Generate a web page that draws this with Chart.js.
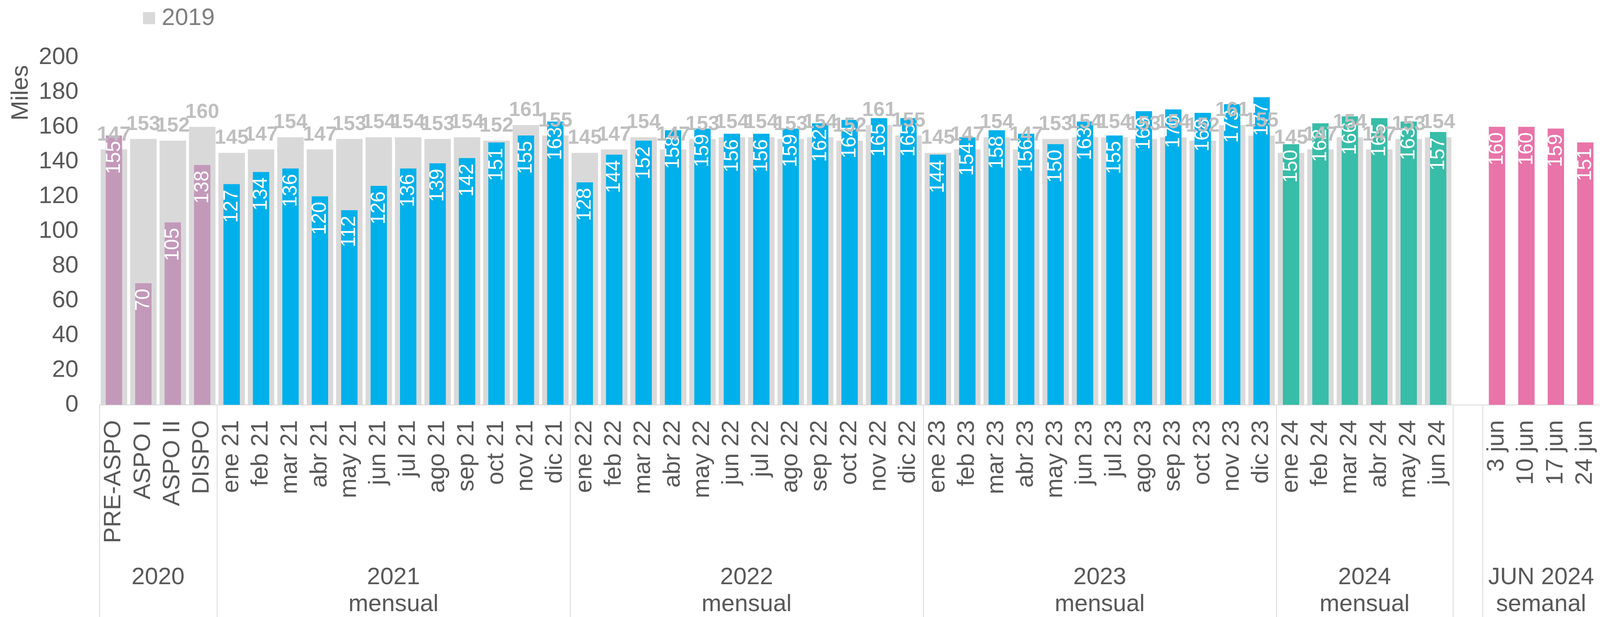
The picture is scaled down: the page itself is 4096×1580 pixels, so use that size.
<!DOCTYPE html>
<html>
<head>
<meta charset="utf-8">
<script src="https://cdn.jsdelivr.net/npm/chart.js@4.4.1/dist/chart.umd.min.js"></script>
<style>
  html, body { margin: 0; padding: 0; background: #fff; overflow: hidden; }
  #wrap { width: 4096px; height: 1580px; }
</style>
</head>
<body>
<div id="wrap"><canvas id="chart" width="4096" height="1580"></canvas></div>
<script>
// ── Datos ────────────────────────────────────────────────────────
const categories = [
  'PRE-ASPO', 'ASPO I', 'ASPO II', 'DISPO',
  'ene 21', 'feb 21', 'mar 21', 'abr 21', 'may 21', 'jun 21', 'jul 21', 'ago 21', 'sep 21', 'oct 21', 'nov 21', 'dic 21',
  'ene 22', 'feb 22', 'mar 22', 'abr 22', 'may 22', 'jun 22', 'jul 22', 'ago 22', 'sep 22', 'oct 22', 'nov 22', 'dic 22',
  'ene 23', 'feb 23', 'mar 23', 'abr 23', 'may 23', 'jun 23', 'jul 23', 'ago 23', 'sep 23', 'oct 23', 'nov 23', 'dic 23',
  'ene 24', 'feb 24', 'mar 24', 'abr 24', 'may 24', 'jun 24',
  '',
  '3 jun', '10 jun', '17 jun', '24 jun'
];

const actual = [
  155, 70, 105, 138,
  127, 134, 136, 120, 112, 126, 136, 139, 142, 151, 155, 163,
  128, 144, 152, 158, 159, 156, 156, 159, 162, 164, 165, 165,
  144, 154, 158, 156, 150, 163, 155, 169, 170, 168, 173, 177,
  150, 162, 166, 165, 163, 157,
  null,
  160, 160, 159, 151
];

const base2019 = [
  147, 153, 152, 160,
  145, 147, 154, 147, 153, 154, 154, 153, 154, 152, 161, 155,
  145, 147, 154, 147, 153, 154, 154, 153, 154, 152, 161, 155,
  145, 147, 154, 147, 153, 154, 154, 153, 154, 152, 161, 155,
  145, 147, 154, 147, 153, 154,
  null,
  null, null, null, null
];

const groupSizes = [4, 12, 12, 12, 6, 1, 4];
const groupLabels = [['2020'], ['2021', 'mensual'], ['2022', 'mensual'], ['2023', 'mensual'], ['2024', 'mensual'], [], ['JUN 2024', 'semanal']];
const yTicks = [0, 20, 40, 60, 80, 100, 120, 140, 160, 180, 200];

// ── Estilo ───────────────────────────────────────────────────────
const FAMILY = "'Liberation Sans', Arial, sans-serif";
const TEXT = '#595959';
const LINE = '#d9d9d9';
const groupColors = ['#c399ba', '#00b0ea', '#00b0ea', '#00b0ea', '#38bda8', '#ffffff', '#e874a9'];

const barColors = [];
groupSizes.forEach((n, g) => { for (let k = 0; k < n; k++) barColors.push(groupColors[g]); });

// etiquetas de valor: blancas dentro de la barra, grises (2019) arriba
const barLabels = {
  id: 'barLabels',
  afterDatasetsDraw(chart) {
    const ctx = chart.ctx;
    ctx.save();
    ctx.font = `51px ${FAMILY}`;
    ctx.fillStyle = '#ffffff';
    ctx.textAlign = 'right';
    ctx.textBaseline = 'middle';
    chart.getDatasetMeta(0).data.forEach((bar, i) => {
      if (actual[i] == null) return;
      ctx.save();
      ctx.translate(bar.x + 1, bar.y + 14);
      ctx.rotate(-Math.PI / 2);
      ctx.fillText(String(actual[i]), 0, 0);
      ctx.restore();
    });
    ctx.font = `bold 52px ${FAMILY}`;
    ctx.fillStyle = '#bfbfbf';
    ctx.textAlign = 'center';
    ctx.textBaseline = 'alphabetic';
    chart.getDatasetMeta(1).data.forEach((bar, i) => {
      if (base2019[i] == null) return;
      ctx.fillText(String(base2019[i]), bar.x, bar.y - 23);
    });
    ctx.restore();
  }
};

// separadores, rótulos de grupo, título del eje y leyenda
const groupAxis = {
  id: 'groupAxis',
  afterDraw(chart) {
    const { ctx, chartArea } = chart;
    const x = chart.scales.x;
    const step = x.getPixelForValue(1) - x.getPixelForValue(0);
    const edge = i => x.getPixelForValue(0) - step / 2 + i * step;
    ctx.save();
    ctx.strokeStyle = LINE;
    ctx.lineWidth = 2;
    let start = 0;
    const bounds = [0];
    groupSizes.forEach(n => { start += n; bounds.push(start); });
    bounds.forEach(b => {
      const px = Math.round(edge(b)) + 1;
      if (px > chart.width) return;
      ctx.beginPath();
      ctx.moveTo(px, chartArea.bottom);
      ctx.lineTo(px, chart.height);
      ctx.stroke();
    });

    ctx.font = `61px ${FAMILY}`;
    ctx.fillStyle = TEXT;
    ctx.textAlign = 'center';
    ctx.textBaseline = 'alphabetic';
    groupLabels.forEach((lines, g) => {
      if (!lines.length) return;
      const cx = (edge(bounds[g]) + edge(bounds[g + 1])) / 2;
      lines.forEach((t, k) => ctx.fillText(t, cx, 1496 + k * 69));
    });

    // título del eje
    ctx.save();
    ctx.translate(54, chart.scales.y.getPixelForValue(180) + 2);
    ctx.rotate(-Math.PI / 2);
    ctx.textBaseline = 'middle';
    ctx.fillText('Miles', 0, 0);
    ctx.restore();

    // leyenda
    ctx.fillStyle = LINE;
    ctx.fillRect(366, 31, 31, 31);
    ctx.fillStyle = '#7f7f7f';
    ctx.textAlign = 'left';
    ctx.textBaseline = 'middle';
    ctx.fillText('2019', 414, 47);
    ctx.restore();
  }
};

new Chart(document.getElementById('chart'), {
  type: 'bar',
  data: {
    labels: categories,
    datasets: [
      { label: 'actual', data: actual, backgroundColor: barColors, borderWidth: 0,
        grouped: false, barPercentage: 0.556, categoryPercentage: 1 },
      { label: '2019', data: base2019, backgroundColor: LINE, borderWidth: 0,
        grouped: false, barPercentage: 0.9, categoryPercentage: 1 }
    ]
  },
  options: {
    responsive: false,
    animation: false,
    devicePixelRatio: 1,
    layout: { padding: { top: 146.7, left: 0, right: 0, bottom: 0 } },
    plugins: { legend: { display: false }, tooltip: { enabled: false } },
    scales: {
      x: {
        ticks: { color: TEXT, font: { family: FAMILY, size: 61 }, minRotation: 90, maxRotation: 90, autoSkip: false, padding: 39 },
        grid: { display: false, drawTicks: false },
        border: { display: true, color: LINE, width: 2 },
        afterFit: s => { s.height = 1580 - 1036.7; s.paddingLeft = 0; s.paddingRight = 0; }
      },
      y: {
        min: 0, max: 200,
        afterBuildTicks: s => { s.ticks = yTicks.map(v => ({ value: v })); },
        ticks: { color: TEXT, font: { family: FAMILY, size: 61 }, padding: 53 },
        grid: { display: false, drawTicks: false },
        border: { display: false },
        afterFit: s => { s.width = 254; s.paddingTop = 0; s.paddingBottom = 0; }
      }
    }
  },
  plugins: [barLabels, groupAxis]
});
</script>
</body>
</html>
